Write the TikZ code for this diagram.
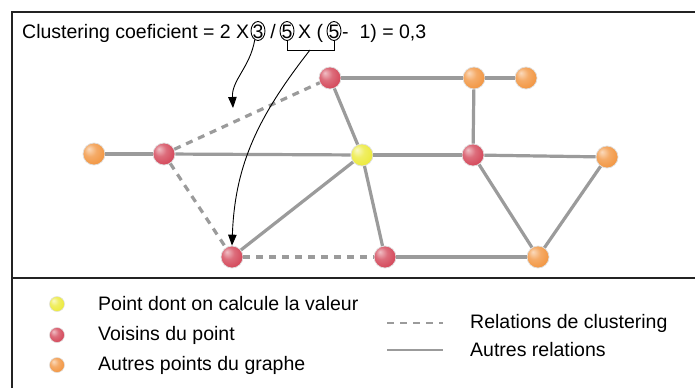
\documentclass[tikz,border=0pt]{standalone}
\usepackage{fontspec}
\setmainfont{Liberation Sans}
\usetikzlibrary{shapes.geometric,arrows.meta}
\definecolor{ylw}{RGB}{236,234,60}
\definecolor{rd}{RGB}{212,72,90}
\definecolor{org}{RGB}{242,150,66}
\definecolor{edgegray}{RGB}{155,155,155}
\definecolor{framegray}{RGB}{35,35,35}
\pgfdeclareradialshading{ballylw}{\pgfpoint{-12bp}{12bp}}{color(0bp)=(ylw!30!white); color(14bp)=(ylw!80!white); color(30bp)=(ylw); color(50bp)=(ylw!88!black)}
\pgfdeclareradialshading{ballrd}{\pgfpoint{-12bp}{12bp}}{color(0bp)=(rd!35!white); color(14bp)=(rd!80!white); color(30bp)=(rd); color(50bp)=(rd!85!black)}
\pgfdeclareradialshading{ballorg}{\pgfpoint{-12bp}{12bp}}{color(0bp)=(org!35!white); color(14bp)=(org!80!white); color(30bp)=(org); color(50bp)=(org!88!black)}
\begin{document}
\begin{tikzpicture}[x=1pt,y=1pt,
  gnode/.style={circle,minimum size=22pt,inner sep=0pt,shading=ball#1,draw=white!75!gray,line width=0.7pt},
  lnode/.style={circle,minimum size=15pt,inner sep=0pt,shading=ball#1,draw=white!75!gray,line width=0.5pt},
  rel/.style={draw=edgegray,line width=3.2pt},
  clu/.style={draw=edgegray,line width=3.2pt,dash pattern=on 7pt off 6pt},
  txt/.style={inner sep=0pt,font=\fontsize{19.5}{22}\selectfont},
  circd/.style={ellipse,draw,line width=0.9pt,minimum width=14pt,minimum height=19pt,inner sep=0pt},
  arr/.style={draw=black,line width=0.9pt,-{Triangle[length=11pt,width=8.5pt]}},
  frame/.style={draw=framegray,line width=2pt}]
\useasboundingbox (0,0) rectangle (695,-388);
\fill[white] (0,0) rectangle (695,-388);
% frame
\draw[frame] (12,-388) -- (12,-12) -- (695,-12);
\draw[frame] (12,-278) -- (695,-278);
% title
\node[txt,anchor=base west] (t1) at (22,-38) {Clustering coeficient = 2 X};
\node[txt,anchor=base] (d3) at (258,-38) {3};
\node[txt,anchor=base] (sl) at (273,-38) {/};
\node[txt,anchor=base] (d5a) at (287,-38) {5};
\node[txt,anchor=base west] (t3) at (298,-38) {X (};
\node[txt,anchor=base] (d5b) at (334,-38) {5};
\node[txt,anchor=base west] (t4) at (342,-38) {-\ \ 1) = 0,3};
\node[circd] (c3) at (258,-31) {};
\node[circd] (c5a) at (287,-31) {};
\node[circd] (c5b) at (334,-31) {};
\draw[line width=0.9pt] (c5a.south) -- ++(0,-9) -| (c5b.south);
\coordinate (br) at (310,-50);
\coordinate (a1end) at (233,-108);
% graph nodes
\node[gnode=org] (A) at (94,-154) {};
\node[gnode=rd] (B) at (164,-154) {};
\node[gnode=rd] (C) at (330,-78) {};
\node[gnode=org] (D) at (474,-78) {};
\node[gnode=org] (E) at (526,-78) {};
\node[gnode=ylw] (Y) at (362,-155) {};
\node[gnode=rd] (F) at (473,-155) {};
\node[gnode=org] (G) at (607,-157) {};
\node[gnode=rd] (H) at (232,-257) {};
\node[gnode=rd] (I) at (385,-257) {};
\node[gnode=org] (J) at (538,-257) {};
% solid relations
\draw[rel] (A) -- (B);
\draw[rel] (B) -- (Y);
\draw[rel] (Y) -- (F);
\draw[rel] (F) -- (G);
\draw[rel] (C) -- (D);
\draw[rel] (D) -- (E);
\draw[rel] (D) -- (F);
\draw[rel] (C) -- (Y);
\draw[rel] (Y) -- (H);
\draw[rel] (Y) -- (I);
\draw[rel] (I) -- (J);
\draw[rel] (F) -- (J);
\draw[rel] (G) -- (J);
% clustering relations
\draw[clu] (B) -- (C);
\draw[clu] (B) -- (H);
\draw[clu] (H) -- (I);
% arrows
\draw[arr] (c3.250) to[out=-100,in=93] (a1end);
\draw[arr] (br) to[out=-128,in=88] (H.north);
% legend
\node[lnode=ylw] (ly) at (57,-304) {};
\node[lnode=rd] (lr) at (57,-335) {};
\node[lnode=org] (lo) at (57,-365) {};
\node[txt,anchor=west] (ty) at (98,-304) {Point dont on calcule la valeur};
\node[txt,anchor=west] (tr) at (98,-335) {Voisins du point};
\node[txt,anchor=west] (to) at (98,-365) {Autres points du graphe};
\coordinate (la1) at (387,-323);
\coordinate (lb1) at (443,-323);
\coordinate (la2) at (387,-350);
\coordinate (lb2) at (443,-350);
\draw[clu,line width=2.6pt] (la1) -- (lb1);
\draw[rel,line width=2.6pt] (la2) -- (lb2);
\node[txt,anchor=west] (tc) at (470,-323) {Relations de clustering};
\node[txt,anchor=west] (tar) at (470,-350) {Autres relations};
\end{tikzpicture}
\end{document}
